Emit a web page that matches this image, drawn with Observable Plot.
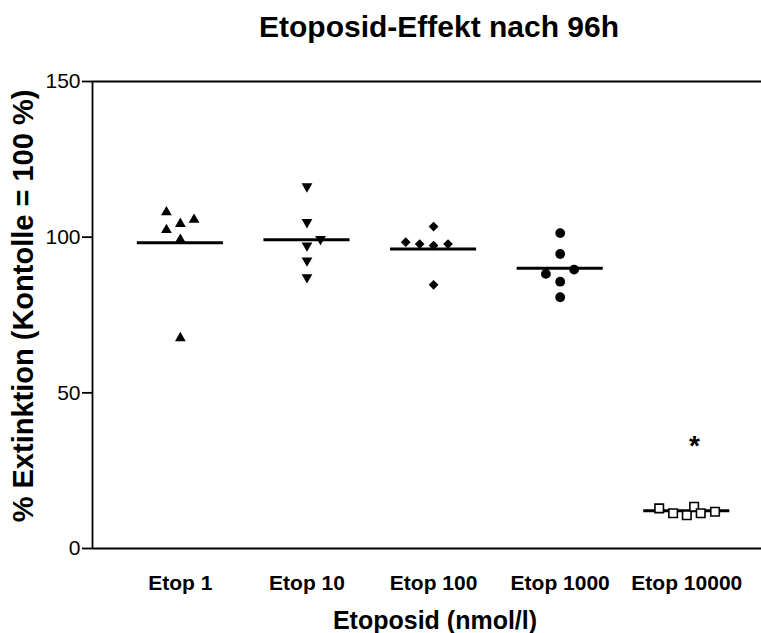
<!DOCTYPE html>
<html>
<head>
<meta charset="utf-8">
<script src="https://cdn.jsdelivr.net/npm/d3@7"></script>
<script src="https://cdn.jsdelivr.net/npm/@observablehq/plot@0.6"></script>
<style>
  body { margin: 0; background: #fff; }
</style>
</head>
<body>
<div id="chart"></div>
<script>
// Groups (Etoposid concentration, nmol/l)
const categories = ["Etop 1", "Etop 10", "Etop 100", "Etop 1000", "Etop 10000"];

// % extinction relative to control, six replicates per group
const valuesEtop1 = [108.0, 102.3, 104.3, 105.6, 99.2, 67.6];
const valuesEtop10 = [116.3, 104.8, 99.4, 97.3, 92.5, 87.1];
const valuesEtop100 = [103.4, 98.4, 97.8, 97.3, 97.8, 84.7];
const valuesEtop1000 = [101.3, 94.6, 89.6, 88.2, 85.7, 80.7];
const valuesEtop10000 = [12.9, 11.3, 10.7, 13.4, 11.3, 11.8];

// horizontal spread of coinciding points within a column (fraction of column step)
const spreadEtop1 = [-0.11, -0.11, 0, 0.108, 0, 0];
const spreadEtop10 = [0, 0, 0.107, 0, 0, 0];
const spreadEtop100 = [0, -0.22, -0.11, 0, 0.114, 0];
const spreadEtop1000 = [0, 0, 0.11, -0.113, 0, 0];
const spreadEtop10000 = [-0.218, -0.108, 0, 0.058, 0.11, 0.223];

// group means (horizontal bars)
const means = [98.2, 99.2, 96.2, 90.0, 12.1];

// significance markers per group
const significance = ["", "", "", "", "*"];

const yTicks = [0, 50, 100, 150];

const title = "Etoposid-Effekt nach 96h";
const xTitle = "Etoposid (nmol/l)";
const yTitle = "% Extinktion (Kontolle = 100 %)";

const series = [valuesEtop1, valuesEtop10, valuesEtop100, valuesEtop1000, valuesEtop10000];
const spreads = [spreadEtop1, spreadEtop10, spreadEtop100, spreadEtop1000, spreadEtop10000];

const points = series.flatMap((vals, i) =>
  vals.map((v, j) => ({group: categories[i], pos: i + spreads[i][j], value: v}))
);

// marker appearance per group
const markerStyle = {
  "Etop 1": {symbol: "triangle", r: 4, fill: "black", stroke: "none", rotate: 0},
  "Etop 10": {symbol: "triangle", r: 4, fill: "black", stroke: "none", rotate: 180},
  "Etop 100": {symbol: "diamond2", r: 4.4, fill: "black", stroke: "none", rotate: 0},
  "Etop 1000": {symbol: "circle", r: 4.9, fill: "black", stroke: "none", rotate: 0},
  "Etop 10000": {symbol: "square", r: 4.8, fill: "white", stroke: "black", rotate: 0}
};

const xDomain = [-0.694, 4.59];
const halfBar = 0.34;
const fontFamily = "Arial, 'Liberation Sans', Helvetica, sans-serif";
const lineW = 1.8;

const dotMarks = categories.map(cat => {
  const s = markerStyle[cat];
  return Plot.dot(points.filter(d => d.group === cat), {
    x: "pos", y: "value",
    symbol: s.symbol, r: s.r, fill: s.fill, stroke: s.stroke,
    strokeWidth: 1.6, rotate: s.rotate
  });
});

const chart = Plot.plot({
  width: 761,
  height: 633,
  marginLeft: 92,
  marginRight: 0,
  marginTop: 81,
  marginBottom: 85,
  style: {fontFamily, background: "white", color: "black", overflow: "visible"},
  x: {domain: xDomain},
  y: {domain: [0, 150]},
  marks: [
    Plot.ruleY([0, 150], {stroke: "black", strokeWidth: lineW}),
    Plot.ruleX([xDomain[0]], {y1: 0, y2: 150, stroke: "black", strokeWidth: lineW}),
    Plot.axisY(yTicks, {tickSize: 10, tickPadding: 2, fontSize: 21, strokeWidth: lineW, label: null}),
    Plot.axisX(d3.range(categories.length), {
      tickSize: 0, tickPadding: 27, fontSize: 21, fontWeight: "bold",
      tickFormat: i => categories[i], label: null
    }),
    Plot.ruleY(means, {
      y: d => d,
      x1: (d, i) => i - halfBar,
      x2: (d, i) => i + halfBar,
      stroke: "black", strokeWidth: 3
    }),
    ...dotMarks,
    Plot.text(significance, {
      x: (d, i) => i + 0.06, y: 33, text: d => d,
      fontSize: 28, fontWeight: "bold"
    }),
    Plot.text([title], {
      frameAnchor: "top", textAnchor: "middle", lineAnchor: "middle",
      dx: 12, dy: -54, fontSize: 30, fontWeight: "bold"
    }),
    Plot.text([yTitle], {
      frameAnchor: "left", textAnchor: "middle", lineAnchor: "middle",
      rotate: -90, dx: -69, dy: -9, fontSize: 29, fontWeight: "bold"
    }),
    Plot.text([xTitle], {
      frameAnchor: "bottom", textAnchor: "middle", lineAnchor: "middle",
      dx: 8, dy: 72, fontSize: 25, fontWeight: "bold"
    })
  ]
});

document.getElementById("chart").append(chart);
</script>
</body>
</html>
